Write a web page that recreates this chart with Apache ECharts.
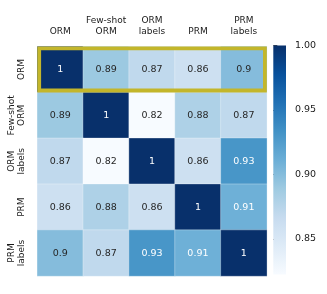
<!DOCTYPE html>
<html><head><meta charset="utf-8">
<script src="https://cdn.jsdelivr.net/npm/echarts@6/dist/echarts.min.js"></script>
<style>html,body{margin:0;padding:0;background:#fff}#c{width:327px;height:294px}</style>
</head><body><div id="c"></div>
<script>
const categories = ['ORM', 'Few-shot\nORM', 'ORM\nlabels', 'PRM', 'PRM\nlabels'];
const rowORM        = [1, 0.89, 0.87, 0.86, 0.9];
const rowFewShotORM = [0.89, 1, 0.82, 0.88, 0.87];
const rowORMLabels  = [0.87, 0.82, 1, 0.86, 0.93];
const rowPRM        = [0.86, 0.88, 0.86, 1, 0.91];
const rowPRMLabels  = [0.9, 0.87, 0.93, 0.91, 1];
const colorbarTicks = [0.85, 0.90, 0.95, 1.00];
const scaleMin = 0.8225, scaleMax = 1.0;
const highlightRow = 0;

const blues = ['#f7fbff','#deebf7','#c6dbef','#9ecae1','#6baed6','#4292c6','#2171b5','#08519c','#08306b'];
const rows = [rowORM, rowFewShotORM, rowORMLabels, rowPRM, rowPRMLabels];
const data = [];
rows.forEach((r, i) => r.forEach((v, j) => data.push({
  value: [j, i, v],
  label: { color: v > 0.905 ? '#ffffff' : '#262626' }
})));

const font = 'DejaVu Sans';
const chart = echarts.init(document.getElementById('c'), null, { renderer: 'canvas' });
chart.setOption({
  backgroundColor: '#fff',
  animation: false,
  grid: [
    { left: 37.3, top: 46.5, width: 229.5, height: 229.5 },
    { left: 273.3, top: 45.5, width: 12.7, height: 229 }
  ],
  xAxis: [
    { type: 'category', gridIndex: 0, position: 'top', data: categories,
      axisLine: { show: false }, axisTick: { show: false }, splitLine: { show: false },
      axisLabel: { fontFamily: font, fontSize: 9, lineHeight: 10.5, color: '#1a1a1a', margin: 10, interval: 0 } },
    { type: 'value', gridIndex: 1, min: 0, max: 1, show: false }
  ],
  yAxis: [
    { type: 'category', gridIndex: 0, inverse: true, data: categories,
      axisLine: { show: false }, axisTick: { show: false }, splitLine: { show: false },
      axisLabel: { fontFamily: font, fontSize: 9, lineHeight: 10.5, color: '#1a1a1a', margin: 10, rotate: 90, interval: 0 } },
    { type: 'value', gridIndex: 1, position: 'right', min: scaleMin, max: scaleMax,
      axisLine: { show: false }, splitLine: { show: false },
      axisTick: { show: true, length: 4, customValues: colorbarTicks, lineStyle: { color: '#1a1a1a', width: 0.8 } },
      axisLabel: { customValues: colorbarTicks, fontFamily: font, fontSize: 9.5, color: '#1a1a1a', margin: 9,
        formatter: v => v.toFixed(2) } }
  ],
  visualMap: { show: false, seriesIndex: 0, dimension: 2, min: scaleMin, max: scaleMax, inRange: { color: blues } },
  series: [
    { type: 'heatmap', xAxisIndex: 0, yAxisIndex: 0, data: data,
      itemStyle: { borderColor: 'rgba(255,255,255,0.6)', borderWidth: 0.5 },
      label: { show: true, fontFamily: font, fontSize: 9.5, formatter: p => String(p.value[2]) } },
    { type: 'custom', xAxisIndex: 0, yAxisIndex: 0, z: 10, data: [[0, highlightRow]],
      renderItem: (params, api) => {
        const cs = params.coordSys;
        const c = api.coord([0, api.value(1)]);
        const s = api.size([1, 1]);
        const lw = 3.8;
        return { type: 'rect',
          shape: { x: cs.x + lw / 2, y: c[1] - s[1] / 2 + lw / 2, width: cs.width - lw, height: s[1] - lw },
          style: { fill: null, stroke: '#c3b62b', lineWidth: lw } };
      } },
    { type: 'custom', xAxisIndex: 1, yAxisIndex: 1, data: [[0, scaleMax]], clip: false,
      renderItem: (params, api) => {
        const cs = params.coordSys;
        const top = api.coord([0, scaleMax]);
        const bot = api.coord([0, scaleMin]);
        const stops = blues.map((c, i) => ({ offset: i / (blues.length - 1), color: blues[blues.length - 1 - i] }));
        return { type: 'rect',
          shape: { x: cs.x, y: top[1], width: cs.width, height: bot[1] - top[1] },
          style: { fill: new echarts.graphic.LinearGradient(0, 0, 0, 1, stops) } };
      } }
  ]
});
</script></body></html>
